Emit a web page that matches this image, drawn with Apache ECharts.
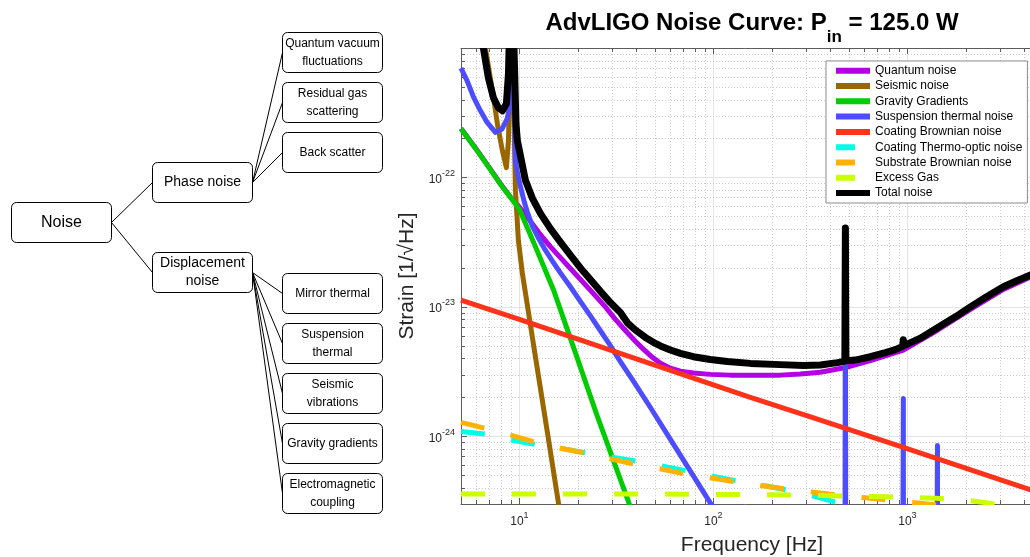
<!DOCTYPE html>
<html>
<head>
<meta charset="utf-8">
<title>AdvLIGO Noise Curve</title>
<script src="https://cdn.jsdelivr.net/npm/echarts@6.0.0/dist/echarts.min.js"></script>
<style>
html, body { margin: 0; padding: 0; background: #ffffff; }
#chart { width: 1030px; height: 557px; }
</style>
</head>
<body>
<div id="chart"></div>
<script>
// ================= DATA =================
// Noise taxonomy (tree diagram)
const treeRoot = 'Noise';
const treeBranches = ['Phase noise', 'Displacement\nnoise'];
const treeLeaves = [
  ['Quantum vacuum\nfluctuations', 'Residual gas\nscattering', 'Back scatter'],
  ['Mirror thermal', 'Suspension\nthermal', 'Seismic\nvibrations', 'Gravity gradients', 'Electromagnetic\ncoupling']
];

// Noise curves: frequency [Hz] and strain [1/sqrt(Hz)]
const seriesNames = ['Quantum noise', 'Seismic noise', 'Gravity Gradients', 'Suspension thermal noise',
  'Coating Brownian noise', 'Coating Thermo-optic noise', 'Substrate Brownian noise', 'Excess Gas', 'Total noise'];

const quantumFreq = [5, 6, 7, 8, 9, 10, 11.4, 12.83, 14.45, 16.27, 18.32, 20.63, 24.06, 27.75, 31.25, 36.04, 39.62, 43.57, 47.35, 53.32, 60.03, 67.6, 78.9, 96.5, 122.4, 174.7, 221.5, 280.9, 356, 479, 644.7, 953, 1428, 2112, 3125, 4306, 5000];
const quantumStrain = [2.39e-22, 1.65e-22, 1.19e-22, 8.9e-23, 7.05e-23, 5.9e-23, 4.59e-23, 3.61e-23, 2.92e-23, 2.40e-23, 1.98e-23, 1.63e-23, 1.27e-23, 1.0e-23, 8.01e-24, 6.31e-24, 5.43e-24, 4.71e-24, 4.20e-24, 3.67e-24, 3.36e-24, 3.19e-24, 3.08e-24, 3.01e-24, 2.97e-24, 2.96e-24, 2.97e-24, 3.03e-24, 3.13e-24, 3.40e-24, 3.84e-24, 4.63e-24, 6.6e-24, 9.57e-24, 1.364e-23, 1.70e-23, 1.875e-23];

const seismicFreq = [5, 6, 6.68, 7.26, 7.7, 8.17, 8.57, 8.78, 8.95, 9.1, 9.3, 9.43, 9.54, 9.88, 10.35, 12, 14, 15.9, 20, 30];
const seismicStrain = [1.25e-20, 2.56e-21, 1.0e-21, 4.67e-22, 2.6e-22, 1.61e-22, 1.19e-22, 1.93e-22, 6e-22, 4e-21, 1.2e-21, 1.93e-22, 7.94e-23, 3.27e-23, 1.83e-23, 4.43e-24, 1.03e-24, 3.05e-25, 3.4e-26, 1e-27];

const gravityFreq = [5, 6, 7, 8, 9, 10, 12, 15, 20, 25, 30, 40, 50];
const gravityStrain = [2.38e-22, 1.64e-22, 1.18e-22, 8.83e-23, 7.0e-23, 5.68e-23, 3.0e-23, 1.35e-23, 3.91e-24, 1.48e-24, 7.0e-25, 2.14e-25, 8.5e-26];

const suspensionFreq = [5, 5.38, 5.81, 6.3, 6.82, 7.52, 8.14, 8.64, 8.98, 9.2, 9.54, 9.76, 10.12, 10.61, 11.0, 11.67, 12.53, 13.61, 14.8, 16.27, 18.32, 19.91, 23.23, 26.16, 29.44, 33.16, 38.24, 47.35, 60.03, 76.1, 96.5, 137.8, 280.9, 476, 479, 482, 940, 950, 953, 956, 1400, 1426, 1429, 1432, 2000, 5000];
const suspensionStrain = [7.0e-22, 5.57e-22, 4.15e-22, 3.27e-22, 2.66e-22, 2.23e-22, 2.37e-22, 2.83e-22, 3.71e-22, 3e-21, 1.35e-22, 1.09e-22, 8.53e-23, 6.42e-23, 5.38e-23, 4.20e-23, 3.40e-23, 2.74e-23, 2.26e-23, 1.83e-23, 1.43e-23, 1.19e-23, 8.53e-24, 6.54e-24, 5.01e-24, 3.78e-24, 2.74e-24, 1.67e-24, 9.48e-25, 5.38e-25, 3.05e-25, 1.30e-25, 2.38e-26, 8e-27, 4.06e-23, 8e-27, 3e-27, 3e-27, 1.96e-24, 3e-27, 2e-27, 2e-27, 8.5e-25, 2e-27, 1.5e-27, 1e-27];

const coatingBrFreq = [5, 10, 30, 100, 155, 300, 920, 3000, 5000];
const coatingBrStrain = [1.13e-23, 8.0e-24, 4.6e-24, 2.5e-24, 2.0e-24, 1.45e-24, 8.35e-25, 4.62e-25, 3.6e-25];

const coatingToFreq = [5, 6.7, 9.2, 12.1, 16.3, 21.9, 30, 40, 55, 74, 99, 135, 185, 250, 336, 425, 600, 1000];
const coatingToStrain = [1.09e-24, 1.04e-24, 9.31e-25, 8.67e-25, 8.09e-25, 7.45e-25, 6.89e-25, 6.43e-25, 5.88e-25, 5.38e-25, 4.92e-25, 4.5e-25, 4.15e-25, 3.8e-25, 3.42e-25, 3.1e-25, 2.6e-25, 1.8e-25];

const substrateFreq = [5, 6.7, 9.0, 12.1, 16.3, 21.9, 30.1, 39.6, 54.6, 71.8, 99, 133, 178, 244, 328, 451, 607, 815, 1133, 2000, 5000];
const substrateStrain = [1.28e-24, 1.15e-24, 1.02e-24, 9.0e-25, 8.09e-25, 7.40e-25, 6.65e-25, 6.09e-25, 5.57e-25, 5.10e-25, 4.75e-25, 4.43e-25, 4.15e-25, 3.9e-25, 3.7e-25, 3.5e-25, 3.35e-25, 3.2e-25, 3.05e-25, 2.8e-25, 2.4e-25];

const excessGasFreq = [5, 50, 100, 200, 400, 800, 1400, 2000, 2500, 3000, 5000];
const excessGasStrain = [3.58e-25, 3.58e-25, 3.56e-25, 3.53e-25, 3.48e-25, 3.41e-25, 3.33e-25, 3.22e-25, 3.08e-25, 2.95e-25, 2.6e-25];

const totalFreq = [5, 6, 6.52, 6.92, 7.35, 7.8, 8.17, 8.57, 8.78, 9.1, 9.35, 9.6, 9.76, 10.74, 11.67, 12.83, 14.45, 16.27, 18.32, 20.63, 24.06, 26.16, 29.44, 33.16, 36.04, 39.62, 44.62, 50.24, 53.32, 60.03, 67.6, 78.9, 96.5, 118.1, 155.1, 221.5, 291, 356, 435.7, 476, 479, 482, 539.5, 644.7, 770, 867, 945, 953, 961, 1167, 1428, 1768, 2112, 2523, 3125, 3690, 4306, 5000];
const totalStrain = [2e-20, 3e-21, 1e-21, 5.87e-22, 4.12e-22, 3.45e-22, 3.27e-22, 3.71e-22, 6.3e-22, 5e-21, 1.2e-21, 2.6e-22, 1.93e-22, 9.5e-23, 6.89e-23, 5.28e-23, 4.02e-23, 3.16e-23, 2.51e-23, 2.0e-23, 1.53e-23, 1.318e-23, 1.08e-23, 9.06e-24, 7.53e-24, 6.63e-24, 5.81e-24, 5.22e-24, 4.99e-24, 4.64e-24, 4.37e-24, 4.12e-24, 3.92e-24, 3.78e-24, 3.66e-24, 3.58e-24, 3.52e-24, 3.56e-24, 3.71e-24, 3.81e-24, 4.06e-23, 3.83e-24, 3.88e-24, 4.12e-24, 4.43e-24, 4.67e-24, 4.95e-24, 5.58e-24, 5.02e-24, 5.73e-24, 6.9e-24, 8.38e-24, 1.0e-23, 1.18e-23, 1.43e-23, 1.60e-23, 1.76e-23, 1.92e-23];

// Axis ticks
const xRange = [5, 5000];
const yRange = [3e-25, 1e-21];
const xTickMinor = [6, 7, 8, 9, 20, 30, 40, 50, 60, 70, 80, 90, 200, 300, 400, 500, 600, 700, 800, 900, 2000, 3000, 4000];
const yTickMinor = [4e-25, 5e-25, 6e-25, 7e-25, 8e-25, 9e-25,
  2e-24, 3e-24, 4e-24, 5e-24, 6e-24, 7e-24, 8e-24, 9e-24,
  2e-23, 3e-23, 4e-23, 5e-23, 6e-23, 7e-23, 8e-23, 9e-23,
  2e-22, 3e-22, 4e-22, 5e-22, 6e-22, 7e-22, 8e-22, 9e-22];

// ================= STYLE / LAYOUT =================
const FONT = "'Liberation Sans', Arial, Helvetica, sans-serif";
const AXIS_COLOR = '#5c5c5c';
const TEXT_COLOR = '#262626';
const GRID = { left: 461, top: 48, width: 582, height: 456 };

const seriesStyles = [
  { color: '#b300e6', width: 5, dashed: false },
  { color: '#996600', width: 5, dashed: false },
  { color: '#00cc00', width: 5, dashed: false },
  { color: '#4d4dff', width: 5, dashed: false },
  { color: '#ff331a', width: 5, dashed: false },
  { color: '#00ffe6', width: 5, dashed: true },
  { color: '#ffb300', width: 5, dashed: true },
  { color: '#ccff00', width: 5, dashed: true },
  { color: '#000000', width: 7, dashed: false }
];
const seriesData = [
  [quantumFreq, quantumStrain],
  [seismicFreq, seismicStrain],
  [gravityFreq, gravityStrain],
  [suspensionFreq, suspensionStrain],
  [coatingBrFreq, coatingBrStrain],
  [coatingToFreq, coatingToStrain],
  [substrateFreq, substrateStrain],
  [excessGasFreq, excessGasStrain],
  [totalFreq, totalStrain]
];

// Tree layout
const BOX_W = 100, BOX_H = 40, BOX_R = 5;
const COL_X = [11, 152, 282];
const ROOT_Y = 202;
const BRANCH_Y = [162, 252];
const LEAF_Y = [[32, 82, 132], [273, 323, 373, 423, 473]];
const LEVEL_FONT = [16, 14, 12];

// ================= BUILD =================
const graphics = [];
function addBox(x, y, text, fs) {
  graphics.push({
    type: 'rect', z: 10,
    shape: { x: x + 0.5, y: y + 0.5, width: BOX_W, height: BOX_H, r: BOX_R },
    style: { fill: '#ffffff', stroke: '#000000', lineWidth: 1 }
  });
  graphics.push({
    type: 'text', z: 11, x: x + BOX_W / 2 + 0.5, y: y + BOX_H / 2 + 0.5,
    style: {
      text: text, fontSize: fs, fontFamily: FONT, fill: '#000000',
      align: 'center', verticalAlign: 'middle', lineHeight: 18
    }
  });
}
function addEdge(x1, y1, x2, y2) {
  graphics.push({
    type: 'line', z: 9,
    shape: { x1: x1 + 0.5, y1: y1 + 0.5, x2: x2 + 0.5, y2: y2 + 0.5 },
    style: { stroke: '#000000', lineWidth: 1 }
  });
}
addBox(COL_X[0], ROOT_Y, treeRoot, LEVEL_FONT[0]);
treeBranches.forEach((b, i) => {
  addEdge(COL_X[0] + BOX_W, ROOT_Y + BOX_H / 2, COL_X[1], BRANCH_Y[i] + BOX_H / 2);
  addBox(COL_X[1], BRANCH_Y[i], b, LEVEL_FONT[1]);
  treeLeaves[i].forEach((leaf, j) => {
    addEdge(COL_X[1] + BOX_W, BRANCH_Y[i] + BOX_H / 2, COL_X[2], LEAF_Y[i][j] + BOX_H / 2);
    addBox(COL_X[2], LEAF_Y[i][j], leaf, LEVEL_FONT[2]);
  });
});
// masks that trim the thick lines exactly at the plot frame
graphics.push({ type: 'rect', z: 50, silent: true, shape: { x: 455, y: 38, width: 80, height: 10 }, style: { fill: '#ffffff' } });
graphics.push({ type: 'rect', z: 50, silent: true, shape: { x: 455, y: GRID.top + GRID.height + 1, width: 600, height: 4 }, style: { fill: '#ffffff' } });

function powLabelX(v) {
  const e = Math.log10(v);
  if (!isFinite(e)) return '';
  const r = Math.round(e);
  if (Math.abs(e - r) > 1e-6) return '';
  return '{b|10}{e|' + r + '}';
}
function powLabelY(v) {
  if (!(v > 0) || v >= yRange[1] * 0.999) return '';
  return powLabelX(v);
}
const labelRich = {
  b: { fontSize: 12, fontFamily: FONT, color: TEXT_COLOR, padding: [4, 0, 0, 0] },
  e: { fontSize: 9, fontFamily: FONT, color: TEXT_COLOR, padding: [0, 0, 8, 0] }
};

const DASH_ICON = 'path://M0,0H19V6H0Z M34,0L34,6';

const lineSeries = seriesNames.map((name, i) => {
  const st = seriesStyles[i];
  const [f, h] = seriesData[i];
  return {
    type: 'line', name: name,
    data: f.map((v, k) => [v, h[k]]),
    showSymbol: false, symbol: 'none', silent: true, clip: true, smooth: false,
    emphasis: { disabled: true },
    itemStyle: { color: st.color },
    lineStyle: st.dashed
      ? { color: st.color, width: st.width, type: [24, 27], cap: 'butt', join: 'round' }
      : { color: st.color, width: st.width, type: 'solid', cap: 'butt', join: 'round' },
    z: 2
  };
});

const minorSeries = {
  type: 'custom', name: '__minor', silent: true, z: 1, clip: false,
  data: xTickMinor.map(v => [v, 1e-23, 0]).concat(yTickMinor.map(v => [10, v, 1])),
  encode: { x: 0, y: 1 },
  renderItem: function (params, api) {
    const cs = params.coordSys;
    const kind = api.value(2);
    const children = [];
    if (kind === 0) {
      const x = Math.round(api.coord([api.value(0), 1e-23])[0]) + 0.5;
      children.push({ type: 'line', shape: { x1: x, y1: cs.y, x2: x, y2: cs.y + cs.height }, style: { stroke: '#cdcdcd', lineWidth: 1, lineDash: [1, 2] } });
      children.push({ type: 'line', shape: { x1: x, y1: cs.y + cs.height, x2: x, y2: cs.y + cs.height - 4 }, style: { stroke: AXIS_COLOR, lineWidth: 1 } });
      children.push({ type: 'line', shape: { x1: x, y1: cs.y, x2: x, y2: cs.y + 4 }, style: { stroke: AXIS_COLOR, lineWidth: 1 } });
    } else {
      const y = Math.round(api.coord([10, api.value(1)])[1]) + 0.5;
      children.push({ type: 'line', shape: { x1: cs.x, y1: y, x2: cs.x + cs.width, y2: y }, style: { stroke: '#cdcdcd', lineWidth: 1, lineDash: [1, 2] } });
      children.push({ type: 'line', shape: { x1: cs.x, y1: y, x2: cs.x + 4, y2: y }, style: { stroke: AXIS_COLOR, lineWidth: 1 } });
    }
    return { type: 'group', children: children };
  }
};

const option = {
  animation: false,
  backgroundColor: '#ffffff',
  title: {
    text: '{t|AdvLIGO Noise Curve: P}{s|in}{t| = 125.0 W}',
    left: 752, top: 11, padding: 0, textAlign: 'center',
    textStyle: {
      fontFamily: FONT,
      rich: {
        t: { fontSize: 24, fontWeight: 'bold', fontFamily: FONT, color: '#000000', lineHeight: 24, verticalAlign: 'top' },
        s: { fontSize: 17, fontWeight: 'bold', fontFamily: FONT, color: '#000000', lineHeight: 17, verticalAlign: 'top', padding: [18, 0, 0, 0] }
      }
    }
  },
  legend: {
    orient: 'vertical', left: 826, top: 61,
    padding: [3.2, 5, 3.4, 10],
    itemWidth: 34, itemHeight: 6, itemGap: 2.3,
    backgroundColor: '#ffffff', borderColor: '#8c8c8c', borderWidth: 1, borderRadius: 0,
    selectedMode: false,
    itemStyle: { borderWidth: 0 },
    textStyle: { fontSize: 12, fontFamily: FONT, color: '#000000', lineHeight: 13 },
    data: seriesNames.map((n, i) => ({ name: n, icon: seriesStyles[i].dashed ? DASH_ICON : 'rect' }))
  },
  grid: { left: GRID.left, top: GRID.top, width: GRID.width, height: GRID.height, containLabel: false, outerBoundsMode: 'none' },
  xAxis: [{
    type: 'log', logBase: 10, min: xRange[0], max: xRange[1], gridIndex: 0, position: 'bottom',
    name: 'Frequency [Hz]', nameLocation: 'middle', nameGap: 31, nameMoveOverlap: false,
    nameTextStyle: { fontSize: 21, fontFamily: FONT, color: TEXT_COLOR, verticalAlign: 'top' },
    axisLine: { show: true, lineStyle: { color: AXIS_COLOR, width: 1 } },
    axisTick: { show: true, inside: true, length: 6, lineStyle: { color: AXIS_COLOR } },
    axisLabel: { show: true, margin: 7, formatter: powLabelX, rich: labelRich },
    splitLine: { show: true, lineStyle: { color: '#e4e4e4', width: 1 } },
    minorTick: { show: false }, minorSplitLine: { show: false }
  }, {
    type: 'log', logBase: 10, min: xRange[0], max: xRange[1], gridIndex: 0, position: 'top',
    axisLine: { show: true, lineStyle: { color: AXIS_COLOR, width: 1 } },
    axisTick: { show: true, inside: true, length: 6, lineStyle: { color: AXIS_COLOR } },
    axisLabel: { show: false }, splitLine: { show: false }
  }],
  yAxis: {
    type: 'log', logBase: 10, min: yRange[0], max: yRange[1],
    name: 'Strain [1/√Hz]', nameLocation: 'middle', nameGap: 43, nameRotate: 90, nameMoveOverlap: false,
    nameTextStyle: { fontSize: 21, fontFamily: FONT, color: TEXT_COLOR },
    axisLine: { show: true, lineStyle: { color: AXIS_COLOR, width: 1 } },
    axisTick: { show: true, inside: true, length: 6, lineStyle: { color: AXIS_COLOR } },
    axisLabel: { show: true, margin: 6, formatter: powLabelY, rich: labelRich },
    splitLine: { show: true, lineStyle: { color: '#e4e4e4', width: 1 } },
    minorTick: { show: false }, minorSplitLine: { show: false }
  },
  series: [minorSeries].concat(lineSeries),
  graphic: graphics
};

const chart = echarts.init(document.getElementById('chart'), null, { renderer: 'canvas' });
chart.setOption(option);
</script>
</body>
</html>
